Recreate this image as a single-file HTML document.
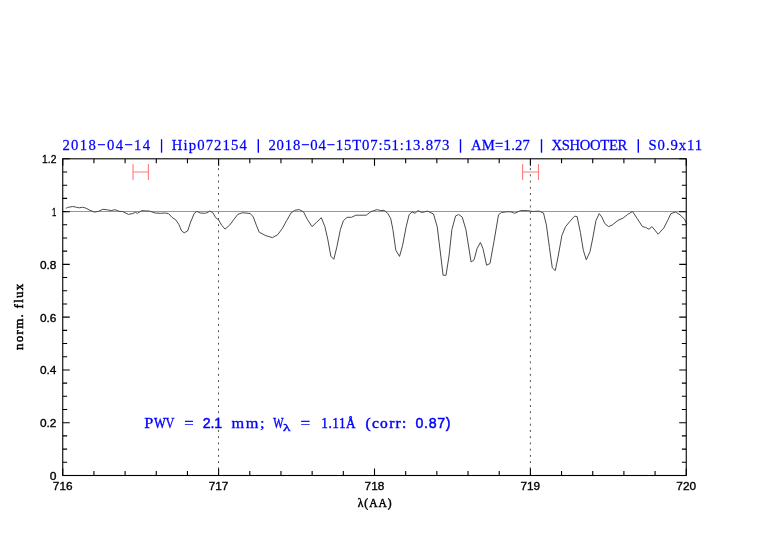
<!DOCTYPE html><html><head><meta charset="utf-8"><style>html,body{margin:0;padding:0;background:#fff;}svg{display:block;will-change:transform;}</style></head><body>
<svg width="782" height="542" viewBox="0 0 782 542">
<rect width="782" height="542" fill="#fff"/>
<line x1="218.50" y1="158.8" x2="218.50" y2="475.5" stroke="#555" stroke-width="1.0" stroke-dasharray="2.0 4.234" stroke-dashoffset="3.16"/>
<line x1="530.40" y1="158.8" x2="530.40" y2="475.5" stroke="#555" stroke-width="1.0" stroke-dasharray="2.0 4.234" stroke-dashoffset="3.16"/>
<line x1="62.75" y1="211.5" x2="686.25" y2="211.5" stroke="#ff6b6b" stroke-width="1.1"/>
<path d="M65.8,208.4 L67.7,207.4 L72.8,206.5 L76.6,207.3 L79.2,207.8 L82.4,207.3 L85.6,208.0 L90.0,210.3 L94.5,212.1 L98.4,211.4 L102.8,209.3 L107.3,209.8 L111.2,210.6 L115.0,209.7 L118.8,211.2 L122.7,211.6 L128.4,214.4 L132.9,213.5 L135.4,212.3 L137.4,213.3 L141.8,210.6 L145.7,210.9 L149.5,211.1 L155.2,213.0 L160.3,213.3 L164.8,213.0 L168.5,213.6 L172.1,217.4 L175.8,219.9 L178.8,224.4 L181.7,231.0 L184.2,232.8 L187.6,231.0 L190.6,222.1 L194.3,213.3 L196.9,211.4 L200.2,213.0 L204.6,213.3 L206.8,212.8 L209.8,211.1 L212.7,212.5 L215.7,217.7 L218.6,219.9 L221.6,225.1 L225.0,229.1 L229.7,225.1 L234.1,219.2 L237.8,214.3 L242.3,212.8 L245.9,213.0 L250.4,213.6 L253.3,217.0 L256.3,225.1 L259.2,232.2 L265.9,235.7 L272.5,237.6 L277.7,234.7 L282.1,228.8 L286.6,220.7 L291.0,213.0 L294.7,210.3 L299.1,209.6 L303.5,211.8 L307.2,219.2 L312.0,226.6 L316.8,222.1 L321.3,217.7 L324.9,226.6 L327.9,239.9 L330.8,256.1 L333.8,259.3 L336.8,247.2 L340.4,229.5 L343.4,220.7 L347.1,217.3 L351.5,217.3 L355.9,215.2 L366.3,215.2 L370.7,211.8 L373.7,210.6 L377.4,209.6 L380.3,210.6 L384.0,210.3 L387.7,213.3 L390.7,218.5 L392.9,229.5 L395.8,250.2 L399.5,256.4 L402.5,245.8 L406.2,226.6 L409.1,214.8 L412.1,211.8 L415.0,213.3 L418.0,210.6 L421.7,212.5 L427.6,211.1 L433.5,214.0 L437.2,226.6 L440.8,256.1 L443.1,275.3 L446.0,275.3 L449.0,256.1 L451.9,229.5 L455.6,215.9 L458.6,214.5 L462.2,217.0 L465.9,229.5 L471.1,262.0 L474.1,259.8 L477.0,248.7 L480.4,242.5 L483.0,248.7 L486.6,265.2 L490.0,263.5 L494.0,241.3 L498.5,214.8 L501.4,212.5 L506.6,211.8 L511.0,211.8 L514.7,213.3 L520.6,210.6 L527.2,210.6 L533.1,211.5 L539.0,211.1 L543.5,213.0 L546.4,225.1 L549.4,247.2 L552.3,267.9 L555.3,270.6 L558.2,256.1 L561.9,235.4 L565.6,226.6 L569.3,222.1 L574.5,216.2 L577.1,216.5 L580.4,232.5 L583.3,250.2 L586.3,259.8 L590.0,251.7 L593.0,236.9 L595.9,220.7 L599.2,213.6 L601.8,217.0 L604.8,223.6 L608.5,226.6 L612.1,225.1 L618.0,220.4 L623.2,218.0 L627.6,214.5 L632.5,211.5 L637.2,218.5 L642.4,226.6 L645.4,227.3 L649.0,229.2 L652.0,226.6 L658.2,234.2 L663.8,228.0 L667.5,220.7 L670.9,213.6 L675.6,212.1 L680.0,214.8 L684.5,219.2 L686.7,223.6" fill="none" stroke="#4a4a4a" stroke-width="1.0" stroke-linejoin="round"/>
<path d="M62.75,475.5V468.50M62.75,158.8V165.80M93.93,475.5V471.10M93.93,158.8V163.20M125.10,475.5V471.10M125.10,158.8V163.20M156.28,475.5V471.10M156.28,158.8V163.20M187.45,475.5V471.10M187.45,158.8V163.20M218.62,475.5V468.50M218.62,158.8V165.80M249.80,475.5V471.10M249.80,158.8V163.20M280.97,475.5V471.10M280.97,158.8V163.20M312.15,475.5V471.10M312.15,158.8V163.20M343.32,475.5V471.10M343.32,158.8V163.20M374.50,475.5V468.50M374.50,158.8V165.80M405.68,475.5V471.10M405.68,158.8V163.20M436.85,475.5V471.10M436.85,158.8V163.20M468.03,475.5V471.10M468.03,158.8V163.20M499.20,475.5V471.10M499.20,158.8V163.20M530.38,475.5V468.50M530.38,158.8V165.80M561.55,475.5V471.10M561.55,158.8V163.20M592.72,475.5V471.10M592.72,158.8V163.20M623.90,475.5V471.10M623.90,158.8V163.20M655.07,475.5V471.10M655.07,158.8V163.20M686.25,475.5V468.50M686.25,158.8V165.80M62.75,475.50H69.75M686.25,475.50H679.25M62.75,462.30H67.15M686.25,462.30H681.85M62.75,449.11H67.15M686.25,449.11H681.85M62.75,435.91H67.15M686.25,435.91H681.85M62.75,422.72H69.75M686.25,422.72H679.25M62.75,409.52H67.15M686.25,409.52H681.85M62.75,396.32H67.15M686.25,396.32H681.85M62.75,383.13H67.15M686.25,383.13H681.85M62.75,369.93H69.75M686.25,369.93H679.25M62.75,356.74H67.15M686.25,356.74H681.85M62.75,343.54H67.15M686.25,343.54H681.85M62.75,330.35H67.15M686.25,330.35H681.85M62.75,317.15H69.75M686.25,317.15H679.25M62.75,303.95H67.15M686.25,303.95H681.85M62.75,290.76H67.15M686.25,290.76H681.85M62.75,277.56H67.15M686.25,277.56H681.85M62.75,264.37H69.75M686.25,264.37H679.25M62.75,251.17H67.15M686.25,251.17H681.85M62.75,237.98H67.15M686.25,237.98H681.85M62.75,224.78H67.15M686.25,224.78H681.85M62.75,211.58H69.75M686.25,211.58H679.25M62.75,198.39H67.15M686.25,198.39H681.85M62.75,185.19H67.15M686.25,185.19H681.85M62.75,172.00H67.15M686.25,172.00H681.85M62.75,158.80H69.75M686.25,158.80H679.25" stroke="#000" stroke-width="1.1" fill="none"/>
<rect x="62.75" y="158.8" width="623.50" height="316.70" fill="none" stroke="#000" stroke-width="1.1"/>
<rect x="66" y="211" width="4" height="1" fill="#7a0000"/><rect x="679" y="211" width="7" height="1" fill="#7a0000"/>
<path d="M133,164V180M148.4,164V180M133,172H148.4" stroke="#ff7a7a" stroke-width="1.1" fill="none"/>
<path d="M522.6,164V180M538.5,164V180M522.6,172H538.5" stroke="#ff7a7a" stroke-width="1.1" fill="none"/>
<text x="49.70" y="480.00" font-family='"Liberation Sans", sans-serif' font-size="11.6" fill="#000" stroke="#000" stroke-width="0.35" textLength="6.70" lengthAdjust="spacingAndGlyphs">0</text>
<text x="39.90" y="427.22" font-family='"Liberation Sans", sans-serif' font-size="11.6" fill="#000" stroke="#000" stroke-width="0.35" textLength="16.50" lengthAdjust="spacingAndGlyphs">0.2</text>
<text x="39.90" y="374.43" font-family='"Liberation Sans", sans-serif' font-size="11.6" fill="#000" stroke="#000" stroke-width="0.35" textLength="16.50" lengthAdjust="spacingAndGlyphs">0.4</text>
<text x="39.90" y="321.65" font-family='"Liberation Sans", sans-serif' font-size="11.6" fill="#000" stroke="#000" stroke-width="0.35" textLength="16.50" lengthAdjust="spacingAndGlyphs">0.6</text>
<text x="39.90" y="268.87" font-family='"Liberation Sans", sans-serif' font-size="11.6" fill="#000" stroke="#000" stroke-width="0.35" textLength="16.50" lengthAdjust="spacingAndGlyphs">0.8</text>
<text x="52.10" y="216.08" font-family='"Liberation Sans", sans-serif' font-size="11.6" fill="#000" stroke="#000" stroke-width="0.35" textLength="4.30" lengthAdjust="spacingAndGlyphs">1</text>
<text x="42.10" y="163.30" font-family='"Liberation Sans", sans-serif' font-size="11.6" fill="#000" stroke="#000" stroke-width="0.35" textLength="14.30" lengthAdjust="spacingAndGlyphs">1.2</text>
<text x="52.85" y="490.3" font-family='"Liberation Sans", sans-serif' font-size="11.6" fill="#000" stroke="#000" stroke-width="0.35" textLength="19.70" lengthAdjust="spacingAndGlyphs">716</text>
<text x="208.72" y="490.3" font-family='"Liberation Sans", sans-serif' font-size="11.6" fill="#000" stroke="#000" stroke-width="0.35" textLength="19.70" lengthAdjust="spacingAndGlyphs">717</text>
<text x="364.60" y="490.3" font-family='"Liberation Sans", sans-serif' font-size="11.6" fill="#000" stroke="#000" stroke-width="0.35" textLength="19.70" lengthAdjust="spacingAndGlyphs">718</text>
<text x="520.48" y="490.3" font-family='"Liberation Sans", sans-serif' font-size="11.6" fill="#000" stroke="#000" stroke-width="0.35" textLength="19.70" lengthAdjust="spacingAndGlyphs">719</text>
<text x="676.35" y="490.3" font-family='"Liberation Sans", sans-serif' font-size="11.6" fill="#000" stroke="#000" stroke-width="0.35" textLength="19.70" lengthAdjust="spacingAndGlyphs">720</text>
<text x="357.80" y="506.8" font-family='"Liberation Serif", serif' font-size="11.5" fill="#000" stroke="#000" stroke-width="0.45" textLength="33.70" lengthAdjust="spacing">λ(AA)</text>
<text transform="translate(23.2,349.9) rotate(-90)" font-family='"Liberation Serif", serif' font-size="13" stroke="#000" stroke-width="0.5" fill="#000" textLength="66.2" lengthAdjust="spacing">norm. flux</text>
<text transform="scale(0.95,1)" x="65.68" y="150.4" font-family='"Liberation Serif", serif' font-size="15.5" fill="#0000ff" stroke="#0000ff" stroke-width="0.25" textLength="92.42" lengthAdjust="spacing">2018−04−14</text>
<rect x="160.9" y="139.2" width="1.30" height="13.5" fill="#0000ff"/>
<text transform="scale(0.95,1)" x="180.84" y="150.4" font-family='"Liberation Serif", serif' font-size="15.5" fill="#0000ff" stroke="#0000ff" stroke-width="0.25" textLength="79.05" lengthAdjust="spacing">Hip072154</text>
<rect x="257.6" y="139.2" width="1.40" height="13.5" fill="#0000ff"/>
<text transform="scale(0.95,1)" x="282.53" y="150.4" font-family='"Liberation Serif", serif' font-size="15.5" fill="#0000ff" stroke="#0000ff" stroke-width="0.25" textLength="190.53" lengthAdjust="spacing">2018−04−15T07:51:13.873</text>
<rect x="459.8" y="139.2" width="1.40" height="13.5" fill="#0000ff"/>
<text transform="scale(0.95,1)" x="495.68" y="150.4" font-family='"Liberation Serif", serif' font-size="15.5" fill="#0000ff" stroke="#0000ff" stroke-width="0.25" textLength="62.21" lengthAdjust="spacing">AM=1.27</text>
<rect x="540.8" y="139.2" width="1.40" height="13.5" fill="#0000ff"/>
<text transform="scale(0.95,1)" x="580.63" y="150.4" font-family='"Liberation Serif", serif' font-size="15.5" fill="#0000ff" stroke="#0000ff" stroke-width="0.25" textLength="79.68" lengthAdjust="spacing">XSHOOTER</text>
<rect x="637.6" y="139.2" width="1.40" height="13.5" fill="#0000ff"/>
<text transform="scale(0.95,1)" x="682.63" y="150.4" font-family='"Liberation Serif", serif' font-size="15.5" fill="#0000ff" stroke="#0000ff" stroke-width="0.25" textLength="56.53" lengthAdjust="spacing">S0.9x11</text>
<text transform="scale(0.95,1)" x="151.79" y="427.8" font-family='"Liberation Serif", serif' font-size="15.5" fill="#0000ff" stroke="#0000ff" stroke-width="0.3" textLength="9.58" lengthAdjust="spacingAndGlyphs">P</text>
<text transform="scale(0.95,1)" x="162.11" y="427.8" font-family='"Liberation Serif", serif' font-size="15.5" fill="#0000ff" stroke="#0000ff" stroke-width="0.45" textLength="12.42" lengthAdjust="spacingAndGlyphs">W</text>
<text transform="scale(0.95,1)" x="174.32" y="427.8" font-family='"Liberation Serif", serif' font-size="15.5" fill="#0000ff" stroke="#0000ff" stroke-width="0.3" textLength="9.37" lengthAdjust="spacingAndGlyphs">V</text>
<text transform="scale(0.95,1)" x="194.00" y="427.8" font-family='"Liberation Serif", serif' font-size="15.5" fill="#0000ff" stroke="#0000ff" stroke-width="0.3" textLength="9.89" lengthAdjust="spacingAndGlyphs">=</text>
<text x="202.70" y="427.8" font-family='"Liberation Sans", sans-serif' font-size="14.2" fill="#0000ff" stroke="#0000ff" stroke-width="0.45" textLength="19.50" lengthAdjust="spacing">2.1</text>
<text transform="scale(1.05,1)" x="220.48" y="427.8" font-family='"Liberation Serif", serif' font-size="15.5" fill="#0000ff" stroke="#0000ff" stroke-width="0.3" textLength="31.52" lengthAdjust="spacing">mm;</text>
<text transform="scale(0.95,1)" x="287.68" y="427.8" font-family='"Liberation Serif", serif' font-size="15.5" fill="#0000ff" stroke="#0000ff" stroke-width="0.45" textLength="10.84" lengthAdjust="spacingAndGlyphs">W</text>
<text transform="scale(0.95,1)" x="316.21" y="427.8" font-family='"Liberation Serif", serif' font-size="15.5" fill="#0000ff" stroke="#0000ff" stroke-width="0.3" textLength="10.21" lengthAdjust="spacingAndGlyphs">=</text>
<text transform="scale(0.85,1)" x="378.00" y="427.8" font-family='"Liberation Serif", serif' font-size="15.5" fill="#0000ff" stroke="#0000ff" stroke-width="0.45" textLength="40.35" lengthAdjust="spacing">1.11Å</text>
<text x="365.40" y="427.8" font-family='"Liberation Serif", serif' font-size="15.5" fill="#0000ff" stroke="#0000ff" stroke-width="0.45" textLength="41.00" lengthAdjust="spacing">(corr:</text>
<text x="415.50" y="427.8" font-family='"Liberation Sans", sans-serif' font-size="14.2" fill="#0000ff" stroke="#0000ff" stroke-width="0.45" textLength="35.00" lengthAdjust="spacing">0.87)</text>
<text x="283.10" y="430.5" font-family='"Liberation Serif", serif' font-size="11" fill="#0000ff" stroke="#0000ff" stroke-width="0.4" textLength="7.40" lengthAdjust="spacingAndGlyphs">λ</text>
</svg></body></html>
